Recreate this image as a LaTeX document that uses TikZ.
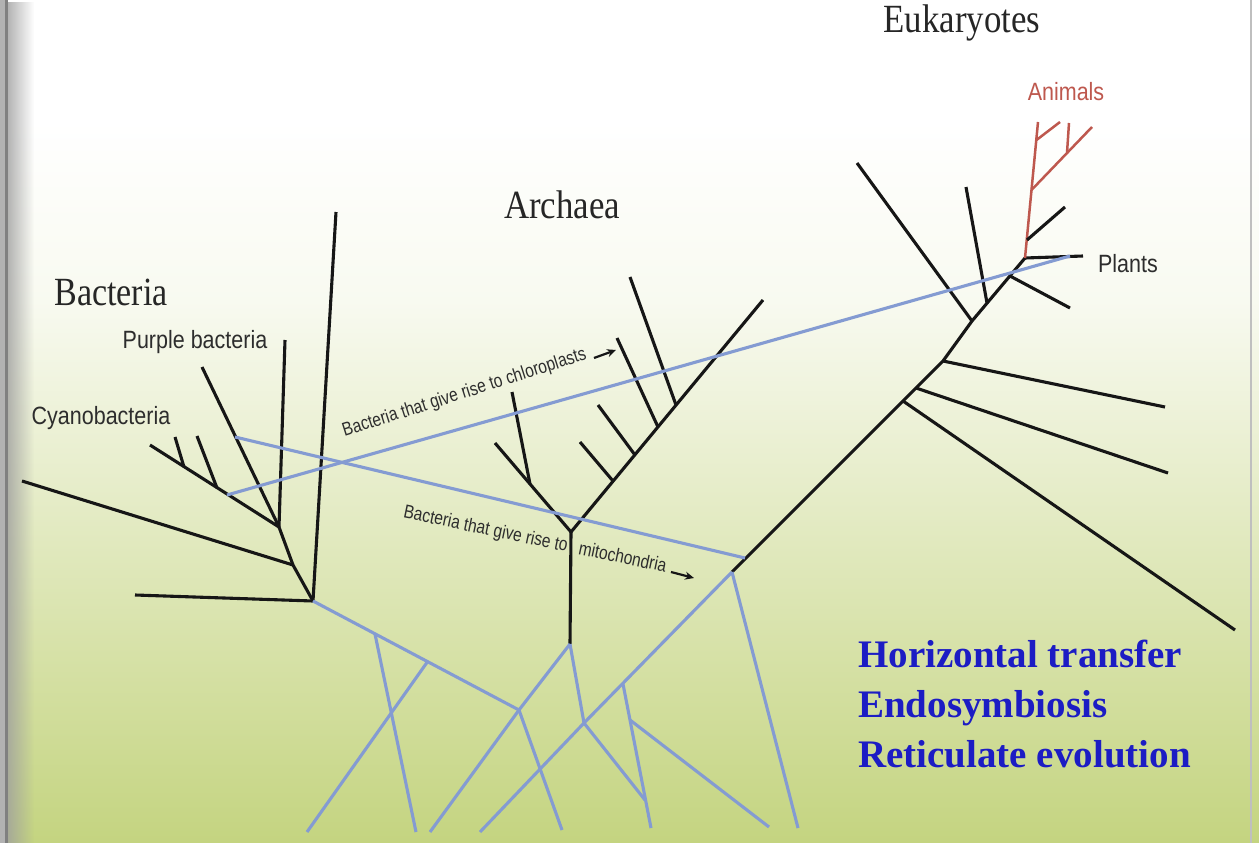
\documentclass[tikz,border=0pt]{standalone}
\usepackage{fontspec}
\setmainfont{Liberation Serif}
\newfontfamily\sansf{Liberation Sans}
\usetikzlibrary{arrows.meta,fadings}
\definecolor{bgmid}{RGB}{238,242,218}
\definecolor{bgbot}{RGB}{196,212,128}
\definecolor{lnk}{RGB}{22,22,22}
\definecolor{tblue}{RGB}{132,155,210}
\definecolor{tred}{RGB}{190,88,78}
\definecolor{navy}{RGB}{28,28,196}
\definecolor{lbl}{RGB}{45,45,45}
\begin{document}
\begin{tikzpicture}[x=1pt,y=-1pt,
  blk/.style={draw=lnk,line width=3.1pt},
  blu/.style={draw=tblue,line width=3.1pt},
  rd/.style={draw=tred,line width=2.5pt},
  title/.style={font=\fontsize{40}{40}\selectfont, text=black!85, inner sep=0pt, anchor=base},
  small/.style={font=\sansf\fontsize{25}{25}\selectfont, text=lbl, inner sep=0pt, anchor=base},
  tiny/.style={font=\sansf\fontsize{19}{19}\selectfont, text=lbl, inner sep=0pt, anchor=base},
  big/.style={font=\bfseries\fontsize{39}{47}\selectfont, text=navy, inner sep=0pt, anchor=base west},
  arr/.style={draw=lnk, line width=2.2pt, -{Stealth[length=9pt,width=8pt]}}
]
\useasboundingbox (0,0) rectangle (1259,843);
% background
\fill[white] (0,0) rectangle (1259,120);
\shade[top color=white, bottom color=white!60!bgmid] (0,120) rectangle (1259,300);
\shade[top color=white!60!bgmid, middle color=bgmid, bottom color=bgbot] (0,300) rectangle (1259,843);
\fill[black!38, path fading=east] (0,0) rectangle (34,843);
\fill[black!30] (0,0) rectangle (5,843);
\fill[black!50] (5,0) rectangle (8,843);
\draw[black!25, line width=1.2pt] (1251,0) -- (1251,843);

% ---------- coordinates ----------
% Bacteria
\coordinate (bR) at (313,601);
\coordinate (bH) at (135,595);
\coordinate (bTall) at (336,212);
\coordinate (b1) at (293,565);
\coordinate (b1L) at (22,481);
\coordinate (b2) at (279,527);
\coordinate (b2V) at (285,340);
\coordinate (bPur) at (202,367);
\coordinate (bCy) at (150,445);
\coordinate (c1) at (184,467);
\coordinate (c1t) at (175,437);
\coordinate (c2) at (217,488);
\coordinate (c2t) at (197,436);
% Archaea
\coordinate (aY) at (571,532);
\coordinate (aBot) at (570,644);
\coordinate (aL) at (495,443);
\coordinate (aLs) at (530,484);
\coordinate (aLst) at (512,392);
\coordinate (aR) at (763,300);
\coordinate (ar1) at (613,481);
\coordinate (ar1t) at (580,442);
\coordinate (ar2) at (635,455);
\coordinate (ar2t) at (598,405);
\coordinate (ar3) at (658,427);
\coordinate (ar3t) at (617,338);
\coordinate (ar4) at (676,405);
\coordinate (ar4t) at (630,277);
% Eukaryotes
\coordinate (eBot) at (732,572);
\coordinate (e3) at (903,401);
\coordinate (e2) at (916,388);
\coordinate (e1) at (943,361);
\coordinate (e4) at (972,321);
\coordinate (e5) at (987,303);
\coordinate (e6) at (1010,276);
\coordinate (eTop) at (1025,258);
\coordinate (e3t) at (1235,630);
\coordinate (e2t) at (1168,473);
\coordinate (e1t) at (1165,407);
\coordinate (e4t) at (857,163);
\coordinate (e5t) at (966,187);
\coordinate (e6t) at (1070,308);
\coordinate (pl) at (1083,256);
\coordinate (r1) at (1027,240);
\coordinate (r1t) at (1065,207);
\coordinate (r2) at (1031.5,190);
\coordinate (r2t) at (1092,127);
\coordinate (r2s) at (1067,153);
\coordinate (r2st) at (1069,123);
\coordinate (r3) at (1036.5,140);
\coordinate (r3t) at (1060,122);
\coordinate (rTop) at (1038,122);
% blue transfers
\coordinate (chS) at (227,495);
\coordinate (chE) at (1070,256);
\coordinate (miS) at (235,437);
\coordinate (miE) at (745,558);
% blue network
\coordinate (nA) at (519,710);
\coordinate (nB) at (375,634);
\coordinate (nBe) at (416,832);
\coordinate (nC) at (428,661);
\coordinate (nCe) at (307,832);
\coordinate (nDe) at (430,832);
\coordinate (nEe) at (562,830);
\coordinate (nF) at (584,723);
\coordinate (nGe) at (480,832);
\coordinate (nI) at (623,684);
\coordinate (nIe) at (651,828);
\coordinate (nJ) at (630,720);
\coordinate (nJe) at (769,827);
\coordinate (nFe) at (645,800);
\coordinate (nHe) at (798,828);
% arrows
\coordinate (ca1) at (594,358);
\coordinate (ca2) at (616,350);
\coordinate (ma1) at (671,572);
\coordinate (ma2) at (694,578);

% ---------- black tree ----------
\draw[blk] (bH) -- (bR);
\draw[blk] (bR) -- (bTall);
\draw[blk] (bR) -- (b1) -- (b2);
\draw[blk] (b1) -- (b1L);
\draw[blk] (b2) -- (b2V);
\draw[blk] (b2) -- (bPur);
\draw[blk] (b2) -- (bCy);
\draw[blk] (c1) -- (c1t);
\draw[blk] (c2) -- (c2t);

\draw[blk] (aBot) -- (aY);
\draw[blk] (aY) -- (aL);
\draw[blk] (aLs) -- (aLst);
\draw[blk] (aY) -- (aR);
\draw[blk] (ar1) -- (ar1t);
\draw[blk] (ar2) -- (ar2t);
\draw[blk] (ar3) -- (ar3t);
\draw[blk] (ar4) -- (ar4t);

\draw[blk] (eBot) -- (e1) -- (e4) -- (eTop);
\draw[blk] (e3) -- (e3t);
\draw[blk] (e2) -- (e2t);
\draw[blk] (e1) -- (e1t);
\draw[blk] (e4) -- (e4t);
\draw[blk] (e5) -- (e5t);
\draw[blk] (e6) -- (e6t);
\draw[blk] (eTop) -- (pl);
\draw[rd] (eTop) -- (rTop);
\draw[blk] (r1) -- (r1t);
\draw[rd] (r2) -- (r2t);
\draw[rd] (r2s) -- (r2st);
\draw[rd] (r3) -- (r3t);

% ---------- blue lines ----------
\draw[blu] (chS) -- (chE);
\draw[blu] (miS) -- (miE);
\draw[blu] (bR) -- (nA);
\draw[blu] (nB) -- (nBe);
\draw[blu] (nC) -- (nCe);
\draw[blu] (aBot) -- (nA) -- (nDe);
\draw[blu] (nA) -- (nEe);
\draw[blu] (aBot) -- (nF);
\draw[blu] (eBot) -- (nF) -- (nGe);
\draw[blu] (nI) -- (nIe);
\draw[blu] (nJ) -- (nJe);
\draw[blu] (nF) -- (nFe);
\draw[blu] (eBot) -- (nHe);

% ---------- labels ----------
\node[title] (tB) at (111,305) {\scalebox{0.85}[1]{Bacteria}};
\node[title] (tA) at (562,218) {\scalebox{0.87}[1]{Archaea}};
\node[title] (tE) at (962,33) {\scalebox{0.87}[1]{Eukaryotes}};
\node[small] (lP) at (195,348) {\scalebox{0.86}[1]{Purple bacteria}};
\node[small] (lC) at (101,424) {\scalebox{0.86}[1]{Cyanobacteria}};
\node[small] (lPl) at (1128,272) {\scalebox{0.86}[1]{Plants}};
\node[small, text=tred] (lAn) at (1066,100) {\scalebox{0.86}[1]{Animals}};
\node[tiny, rotate=17.7] (lch) at (466,398) {\scalebox{0.82}[1]{Bacteria that give rise to chloroplasts}};
\node[tiny, rotate=-11.8] (lmi) at (534,545) {\scalebox{0.82}[1]{Bacteria that give rise to\hspace{9pt} mitochondria}};
\draw[arr] (ca1) -- (ca2);
\draw[arr] (ma1) -- (ma2);

\node[big] (h1) at (858,667) {Horizontal transfer};
\node[big] (h2) at (858,717) {Endosymbiosis};
\node[big] (h3) at (858,767) {Reticulate evolution};
\end{tikzpicture}
\end{document}
